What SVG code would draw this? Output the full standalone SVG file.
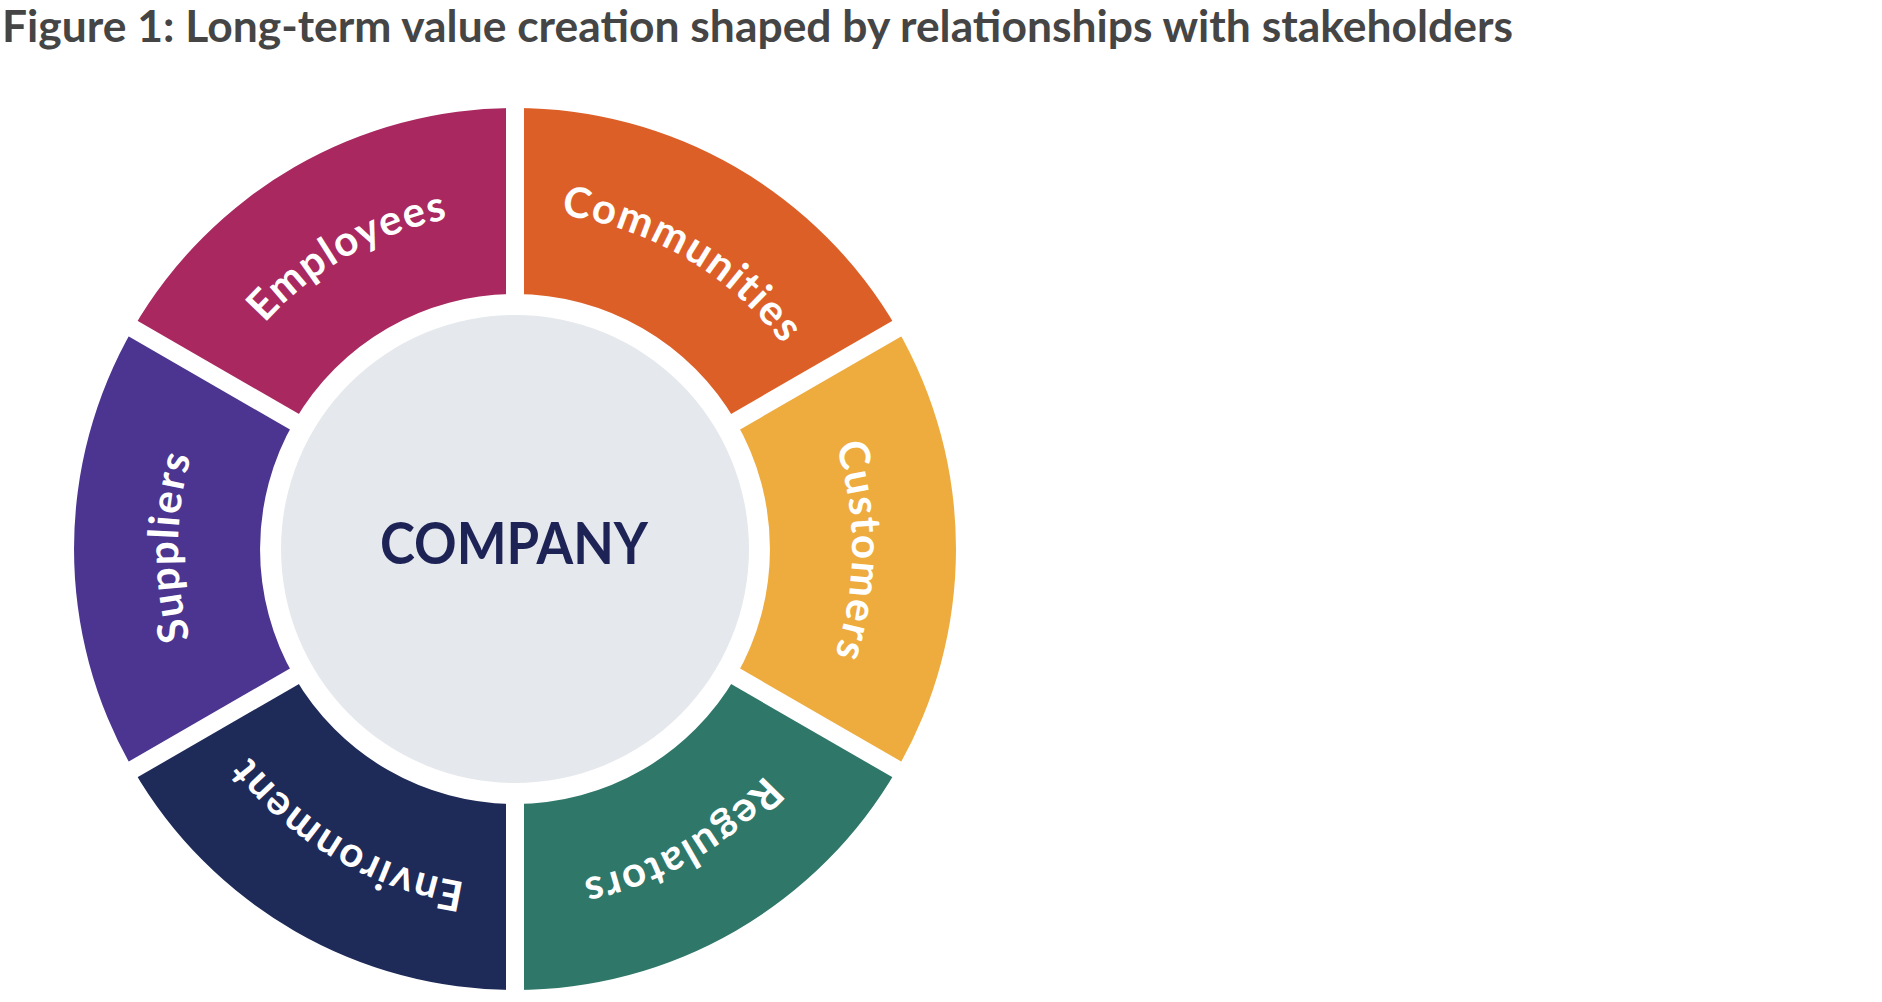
<svg xmlns="http://www.w3.org/2000/svg" xmlns:xlink="http://www.w3.org/1999/xlink" width="1882" height="1002" viewBox="0 0 1882 1002">
<style>
.title{font-family:Lato,"Liberation Sans",sans-serif;font-weight:700;font-size:43px;fill:#454545}
.lbl{font-family:Lato,"Liberation Sans",sans-serif;font-weight:700;font-size:42px;fill:#ffffff;letter-spacing:1.6px}
.co{font-family:Lato,"Liberation Sans",sans-serif;font-weight:700;font-size:57px;fill:#1e2356}
.gap{stroke:#ffffff;stroke-width:18;fill:none}
</style>
<defs>
<path id="pEmp" d="M178,549 A337,337 0 0 1 683.5,257.15"/>
<path id="pCom" d="M346.5,257.15 A337,337 0 0 1 852,549"/>
<path id="pCus" d="M683.5,257.15 A337,337 0 0 1 683.5,840.85"/>
<path id="pReg" d="M852,549 A337,337 0 0 1 346.5,840.85"/>
<path id="pEnv" d="M683.5,840.85 A337,337 0 0 1 178,549"/>
<path id="pSup" d="M346.5,840.85 A337,337 0 0 1 346.5,257.15"/>
</defs>
<rect width="1882" height="1002" fill="#ffffff"/>
<text class="title" x="2" y="42" textLength="1511" lengthAdjust="spacingAndGlyphs">Figure 1: Long-term value creation shaped by relationships with stakeholders</text>

<g id="communities">
<path d="M515,108 A441,441 0 0 1 896.9,328.5 L735.8,421.5 A255,255 0 0 0 515,294 Z" fill="#dd5f28"/>
<text class="lbl" text-anchor="middle"><textPath href="#pCom" xlink:href="#pCom" startOffset="50.3%">Communities</textPath></text>
</g>
<g id="customers">
<path d="M896.9,328.5 A441,441 0 0 1 896.9,769.5 L735.8,676.5 A255,255 0 0 0 735.8,421.5 Z" fill="#eeab3e"/>
<text class="lbl" text-anchor="middle"><textPath href="#pCus" xlink:href="#pCus" startOffset="50.3%">Customers</textPath></text>
</g>
<g id="regulators">
<path d="M896.9,769.5 A441,441 0 0 1 515,990 L515,804 A255,255 0 0 0 735.8,676.5 Z" fill="#2e7769"/>
<text class="lbl" text-anchor="middle"><textPath href="#pReg" xlink:href="#pReg" startOffset="50.3%">Regulators</textPath></text>
</g>
<g id="environment">
<path d="M515,990 A441,441 0 0 1 133.1,769.5 L294.2,676.5 A255,255 0 0 0 515,804 Z" fill="#1e2a57"/>
<text class="lbl" text-anchor="middle"><textPath href="#pEnv" xlink:href="#pEnv" startOffset="50.3%">Environment</textPath></text>
</g>
<g id="suppliers">
<path d="M133.1,769.5 A441,441 0 0 1 133.1,328.5 L294.2,421.5 A255,255 0 0 0 294.2,676.5 Z" fill="#4b3590"/>
<text class="lbl" text-anchor="middle"><textPath href="#pSup" xlink:href="#pSup" startOffset="50.3%">Suppliers</textPath></text>
</g>
<g id="employees">
<path d="M133.1,328.5 A441,441 0 0 1 515,108 L515,294 A255,255 0 0 0 294.2,421.5 Z" fill="#a8285f"/>
<text class="lbl" text-anchor="middle"><textPath href="#pEmp" xlink:href="#pEmp" startOffset="50.3%">Employees</textPath></text>
</g>

<g id="connectors">
<line class="gap" x1="515" y1="549" x2="515" y2="100"/>
<line class="gap" x1="515" y1="549" x2="904" y2="324.5"/>
<line class="gap" x1="515" y1="549" x2="904" y2="773.5"/>
<line class="gap" x1="515" y1="549" x2="515" y2="998"/>
<line class="gap" x1="515" y1="549" x2="126" y2="773.5"/>
<line class="gap" x1="515" y1="549" x2="126" y2="324.5"/>
</g>

<g id="company">
<circle cx="515" cy="549" r="234" fill="#e5e8ec"/>
<text class="co" x="514" y="564" text-anchor="middle" textLength="268" lengthAdjust="spacingAndGlyphs">COMPANY</text>
</g>
</svg>
